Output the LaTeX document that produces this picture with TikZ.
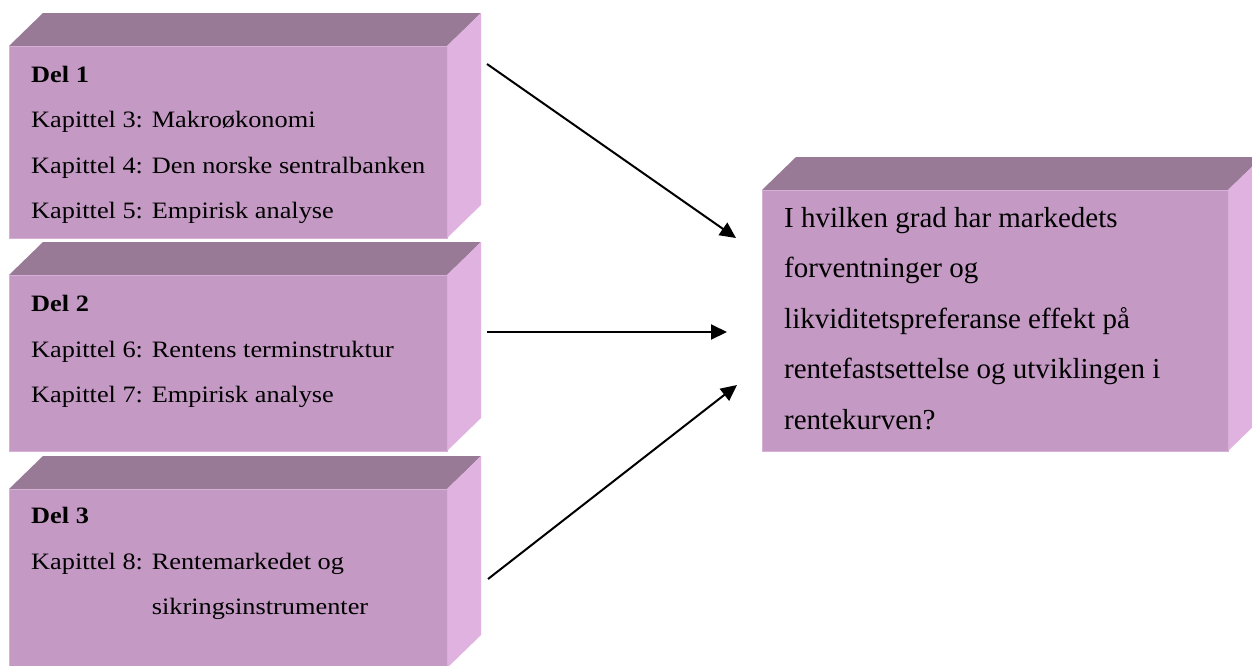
\documentclass[tikz,border=0pt]{standalone}
\usepackage{fontspec}
\setmainfont{Liberation Serif}
\newfontfamily\leftfont[FakeStretch=1.12]{Liberation Serif}
\usetikzlibrary{arrows.meta}
\definecolor{frontc}{RGB}{196,153,196}
\definecolor{topc}{RGB}{152,121,150}
\definecolor{sidec}{RGB}{224,178,224}
\definecolor{edgec}{RGB}{214,176,214}
\newcommand{\sidefaces}[1]{%
  \fill[topc] (#1.north west) -- ++(34,-33) -- ([shift={(34,-33)}]#1.north east) -- (#1.north east) -- cycle;
  \fill[sidec] (#1.north east) -- ++(34,-33) -- ([shift={(34,-33)}]#1.south east) -- (#1.south east) -- cycle;
  \draw[edgec,line width=0.8pt] (#1.north west) -- (#1.north east) -- (#1.south east);
}
\begin{document}
\begin{tikzpicture}[x=1pt,y=-1pt,
  frontface/.style={fill=frontc, draw=edgec, line width=0.8pt, inner sep=0pt, outer sep=0pt, anchor=north west},
  lefttext/.style={anchor=base west, align=left, inner sep=0pt, font=\leftfont\fontsize{23.5}{45.5}\selectfont},
  righttext/.style={anchor=base west, align=left, inner sep=0pt, font=\fontsize{29}{50.5}\selectfont},
  conn/.style={line width=2pt, -{Triangle[length=16pt,width=15pt]}}]
\useasboundingbox (0,0) rectangle (1252,665);
\clip (0,0) rectangle (1252,665);
\fill[white] (0,0) rectangle (1252,665);

\node[frontface, minimum width=438pt, minimum height=192pt] (b1) at (9,46) {};
\sidefaces{b1}
\node[frontface, minimum width=438pt, minimum height=176pt] (b2) at (9,275) {};
\sidefaces{b2}
\node[frontface, minimum width=438pt, minimum height=179pt] (b3) at (9,489) {};
\sidefaces{b3}
\node[frontface, minimum width=466pt, minimum height=261pt] (b4) at (762,190) {};
\sidefaces{b4}

% anchor base = baseline of the last line
\node[lefttext] (t1) at (31,218.5) {\textbf{Del 1}\\Kapittel 3: Makroøkonomi\\Kapittel 4: Den norske sentralbanken\\Kapittel 5: Empirisk analyse};
\node[lefttext] (t2) at (31,402.5) {\textbf{Del 2}\\Kapittel 6: Rentens terminstruktur\\Kapittel 7: Empirisk analyse};
\node[lefttext] (t3) at (31,614.5) {\textbf{Del 3}\\Kapittel 8: Rentemarkedet og\\\phantom{Kapittel 8: }sikringsinstrumenter};
\node[righttext] (t4) at (784,429) {I hvilken grad har markedets\\forventninger og\\likviditetspreferanse effekt på\\rentefastsettelse og utviklingen i\\rentekurven?};

\coordinate (a1s) at (487,64);
\coordinate (a1e) at (736,238);
\coordinate (a2s) at (487,332);
\coordinate (a2e) at (727,332);
\coordinate (a3s) at (488,579);
\coordinate (a3e) at (737,385);
\draw[conn] (a1s) -- (a1e);
\draw[conn] (a2s) -- (a2e);
\draw[conn] (a3s) -- (a3e);
\end{tikzpicture}
\end{document}
